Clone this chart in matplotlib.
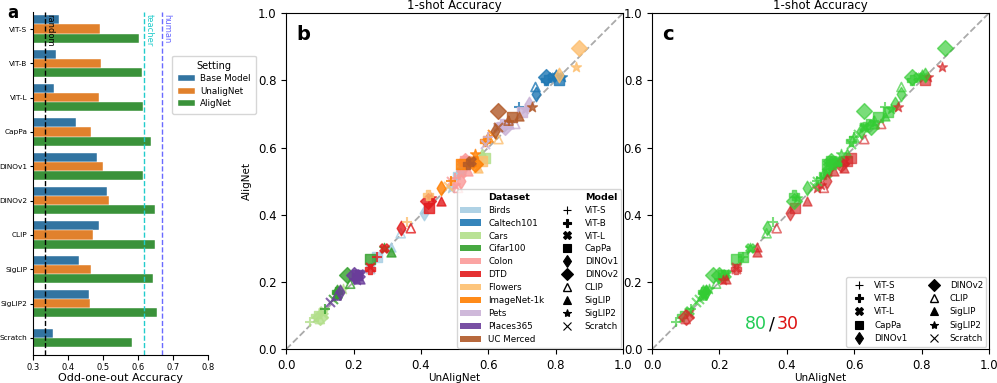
import numpy as np
import matplotlib
matplotlib.use("Agg")
import matplotlib.pyplot as plt
from matplotlib.patches import Patch
from matplotlib.lines import Line2D

# modelos y configuraciones
models = ['ViT-S', 'ViT-B', 'ViT-L', 'CapPa', 'DINOv1', 'DINOv2', 'CLIP', 'SigLIP', 'SigLIP2', 'Scratch']
settings = ['Base Model', 'UnaligNet', 'AligNet']

# panel a: odd-one-out accuracy
base_acc = [0.374, 0.365, 0.359, 0.424, 0.482, 0.511, 0.488, 0.432, 0.459, 0.357]
unalig_acc = [0.492, 0.494, 0.487, 0.466, 0.499, 0.517, 0.471, 0.466, 0.462, np.nan]
alig_acc = [0.602, 0.611, 0.615, 0.637, 0.615, 0.647, 0.647, 0.643, 0.655, 0.582]
random_acc = 1 / 3
teacher_acc = 0.617
human_acc = 0.667

# panel b/c: 1-shot accuracy (UnAligNet, AligNet) por dataset, orden de models
datasets = ['Birds', 'Caltech101', 'Cars', 'Cifar100', 'Colon', 'DTD', 'Flowers',
            'ImageNet-1k', 'Pets', 'Places365', 'UC Merced']
birds_un = [0.50, 0.51, 0.52, 0.27, 0.41, 0.53, 0.34, 0.31, 0.49, 0.25]
birds_al = [0.51, 0.52, 0.53, 0.275, 0.405, 0.55, 0.345, 0.305, 0.48, 0.24]
caltech_un = [0.69, 0.77, 0.79, 0.81, 0.74, 0.77, 0.74, 0.80, 0.82, 0.80]
caltech_al = [0.72, 0.80, 0.81, 0.80, 0.76, 0.81, 0.78, 0.82, 0.81, 0.81]
cars_un = [0.07, 0.09, 0.11, 0.59, 0.16, 0.10, 0.10, 0.58, 0.17, 0.11]
cars_al = [0.08, 0.10, 0.115, 0.57, 0.17, 0.095, 0.09, 0.585, 0.18, 0.105]
cifar_un = [0.115, 0.15, 0.15, 0.25, 0.15, 0.18, 0.19, 0.31, 0.29, 0.14]
cifar_al = [0.12, 0.17, 0.16, 0.27, 0.17, 0.22, 0.195, 0.29, 0.30, 0.15]
colon_un = [0.50, 0.53, 0.52, 0.53, 0.52, 0.53, 0.51, 0.54, 0.50, 0.49]
colon_al = [0.51, 0.55, 0.525, 0.56, 0.50, 0.56, 0.48, 0.53, 0.49, 0.50]
dtd_un = [0.27, 0.25, 0.29, 0.425, 0.34, 0.42, 0.37, 0.46, 0.43, 0.25]
dtd_al = [0.275, 0.24, 0.30, 0.42, 0.36, 0.44, 0.36, 0.44, 0.45, 0.245]
flowers_un = [0.36, 0.42, 0.57, 0.58, 0.81, 0.87, 0.63, 0.57, 0.86, 0.48]
flowers_al = [0.38, 0.46, 0.56, 0.56, 0.815, 0.895, 0.625, 0.54, 0.84, 0.485]
imagenet_un = [0.49, 0.59, 0.55, 0.52, 0.46, 0.56, 0.60, 0.55, 0.56, 0.61]
imagenet_al = [0.50, 0.62, 0.555, 0.55, 0.48, 0.55, 0.63, 0.56, 0.58, 0.64]
pets_un = [0.60, 0.64, 0.63, 0.70, 0.72, 0.65, 0.68, 0.66, 0.71, 0.59]
pets_al = [0.63, 0.67, 0.66, 0.705, 0.73, 0.66, 0.67, 0.67, 0.715, 0.61]
places_un = [0.20, 0.21, 0.22, 0.21, 0.16, 0.20, 0.15, 0.22, 0.21, 0.13]
places_al = [0.21, 0.22, 0.225, 0.22, 0.17, 0.22, 0.16, 0.21, 0.205, 0.14]
ucm_un = [0.66, 0.54, 0.55, 0.67, 0.62, 0.63, 0.66, 0.69, 0.73, 0.63]
ucm_al = [0.68, 0.55, 0.56, 0.69, 0.65, 0.71, 0.68, 0.695, 0.72, 0.66]

un_vals = [birds_un, caltech_un, cars_un, cifar_un, colon_un, dtd_un, flowers_un,
           imagenet_un, pets_un, places_un, ucm_un]
al_vals = [birds_al, caltech_al, cars_al, cifar_al, colon_al, dtd_al, flowers_al,
           imagenet_al, pets_al, places_al, ucm_al]

paired = plt.get_cmap('Paired').colors
ds_colors = list(paired[:10]) + [paired[11]]
markers = ['+', 'P', 'X', 's', 'd', 'D', '^', '^', '*', 'x']
sizes = [55, 55, 45, 55, 55, 65, 42, 42, 55, 42]
hollow = [False, False, False, False, False, False, True, False, False, False]
bar_colors = ['#3274a1', '#e1812c', '#3a923a']

fig = plt.figure(figsize=(9.97, 3.83), dpi=100)
ax_a = fig.add_axes([0.033, 0.073, 0.176, 0.896])
ax_b = fig.add_axes([0.287, 0.088, 0.338, 0.878])
ax_c = fig.add_axes([0.654, 0.088, 0.338, 0.878])

# ---- panel a ----
h = 0.267
y = np.arange(len(models))
for i, (vals, col, lab) in enumerate(zip([base_acc, unalig_acc, alig_acc], bar_colors, settings)):
    for j, v in enumerate(vals):
        if np.isnan(v):
            continue
        off = (i - 1) * h
        if models[j] == 'Scratch':
            off = -h / 2 if i == 0 else h / 2
        ax_a.barh(y[j] + off, v, height=h, color=col, edgecolor='white', linewidth=0.3,
                  label=lab if j == 0 else None)
ax_a.axvline(random_acc, color='black', ls='--', lw=1)
ax_a.axvline(teacher_acc, color='#22cccc', ls='--', lw=1)
ax_a.axvline(human_acc, color='#6a6aff', ls='--', lw=1)
ax_a.text(random_acc + 0.002, -0.45, 'random', rotation=270, ha='left', va='top', fontsize=6, color='black')
ax_a.text(teacher_acc + 0.002, -0.45, 'teacher', rotation=270, ha='left', va='top', fontsize=6, color='#22cccc')
ax_a.text(human_acc + 0.002, -0.45, 'human', rotation=270, ha='left', va='top', fontsize=6, color='#6a6aff')
ax_a.set_xlim(0.3, 0.8)
ax_a.set_ylim(9.5, -0.5)
ax_a.set_yticks(y)
ax_a.set_yticklabels(models, fontsize=5.3)
ax_a.set_xticks([0.3, 0.4, 0.5, 0.6, 0.7, 0.8])
ax_a.tick_params(axis='x', labelsize=6, pad=2)
ax_a.tick_params(axis='y', pad=1.5, length=2.5)
ax_a.set_xlabel('Odd-one-out Accuracy', fontsize=8, labelpad=1)
ax_a.spines['top'].set_visible(False)
ax_a.spines['right'].set_visible(False)
ax_a.legend(title='Setting', loc='upper left', bbox_to_anchor=(0.77, 0.885), fontsize=6.3,
            title_fontsize=7, handlelength=2.0, borderpad=0.6, labelspacing=0.4,
            handletextpad=0.6)
fig.text(0.007, 0.99, 'a', fontsize=12, fontweight='bold', va='top')

# ---- panel b ----
for d, col in enumerate(ds_colors):
    for m in range(len(models)):
        x, yv = un_vals[d][m], al_vals[d][m]
        if hollow[m]:
            ax_b.scatter(x, yv, marker=markers[m], s=sizes[m], facecolors='none',
                         edgecolors=[col], linewidths=1.2, alpha=0.8)
        else:
            ax_b.scatter(x, yv, marker=markers[m], s=sizes[m], color=col, alpha=0.8)

# ---- panel c ----
n_up = 0
n_down = 0
for d in range(len(datasets)):
    for m in range(len(models)):
        x, yv = un_vals[d][m], al_vals[d][m]
        if yv > x:
            col = '#33cc33'
            n_up += 1
        else:
            col = '#d62728'
            n_down += 1
        if hollow[m]:
            ax_c.scatter(x, yv, marker=markers[m], s=sizes[m], facecolors='none',
                         edgecolors=[col], linewidths=1.2, alpha=0.65)
        else:
            ax_c.scatter(x, yv, marker=markers[m], s=sizes[m], color=col, alpha=0.65)

for ax, lab in [(ax_b, 'b'), (ax_c, 'c')]:
    ax.plot([0, 1], [0, 1], ls='--', color='#aaaaaa', lw=1.3, zorder=0)
    ax.set_xlim(0, 1)
    ax.set_ylim(0, 1)
    ax.set_xticks([0, 0.2, 0.4, 0.6, 0.8, 1.0])
    ax.set_yticks([0, 0.2, 0.4, 0.6, 0.8, 1.0])
    ax.tick_params(labelsize=8.5)
    ax.set_title('1-shot Accuracy', fontsize=8.5, pad=3)
    ax.set_xlabel('UnAligNet', fontsize=7.5, labelpad=1)
    ax.text(0.03, 0.965, lab, transform=ax.transAxes, fontsize=14, fontweight='bold', va='top')
ax_b.set_ylabel('AligNet', fontsize=7.5)

model_handles = []
for m in range(len(models)):
    model_handles.append(Line2D([], [], ls='none', marker=markers[m], color='black',
                                markerfacecolor='none' if hollow[m] else 'black',
                                markersize=6, markeredgewidth=1.0 if hollow[m] else 0.8))
blank = Line2D([], [], ls='none')
ds_handles = [Patch(facecolor=c, edgecolor='none', alpha=0.9) for c in ds_colors]
handles_b = [blank] + ds_handles + [blank] + model_handles + [blank]
labels_b = ['Dataset'] + datasets + ['Model'] + models + ['']
leg = ax_b.legend(handles_b, labels_b, ncol=2, loc='lower right', fontsize=6.3,
                  handlelength=2.4, labelspacing=0.45, columnspacing=1.4,
                  borderaxespad=0.2, handletextpad=0.8)
for t in leg.get_texts():
    if t.get_text() in ('Dataset', 'Model'):
        t.set_fontweight('bold')
        t.set_fontsize(6.8)

ax_c.legend(model_handles, models, ncol=2, loc='lower right', fontsize=6.3,
            handlelength=2.0, labelspacing=0.5, columnspacing=2.0, borderaxespad=0.3)
ax_c.text(0.34, 0.074, str(n_up), color='#22cc55', fontsize=12.5, ha='right', va='center')
ax_c.text(0.355, 0.074, '/', color='black', fontsize=12.5, ha='center', va='center')
ax_c.text(0.37, 0.074, str(n_down), color='#dd1111', fontsize=12.5, ha='left', va='center')

fig.savefig('out.png', dpi=100)
